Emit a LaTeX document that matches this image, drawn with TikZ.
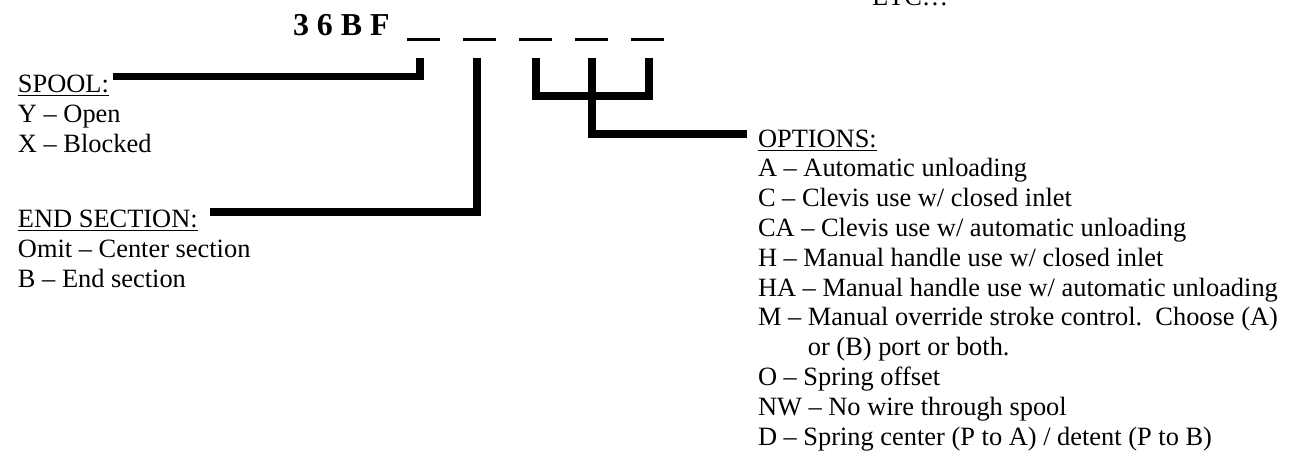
\documentclass[tikz,border=0pt]{standalone}
\usepackage{fontspec}
\setmainfont{Liberation Serif}
\begin{document}
\begin{tikzpicture}[x=0.4545pt,y=-0.4545pt,
  txt/.style={anchor=base west,inner sep=0pt,outer sep=0pt,font=\fontsize{12}{13.8}\selectfont},
  title/.style={anchor=base west,inner sep=0pt,outer sep=0pt,font=\fontsize{14.5}{16}\selectfont\bfseries},
  blank/.style={draw=none,fill=black,inner sep=0pt,outer sep=0pt,minimum width=15pt,minimum height=1pt},
  conn/.style={line width=3.6pt,line join=miter,line cap=butt}]
\useasboundingbox (0,0) rectangle (1301,460);
% header
\node[txt] (etc) at (872,5) {ETC…};
\node[title] (code) at (293,35) {3 6 B F};
\node[blank] (u1) at (423.5,39.5) {};
\node[blank] (u2) at (479.5,39.5) {};
\node[blank] (u3) at (535.5,39.5) {};
\node[blank] (u4) at (591.5,39.5) {};
\node[blank] (u5) at (647,39.5) {};
% left column
\node[txt] (spool) at (18,92) {\underline{SPOOL:}};
\node[txt] (sy) at (18,122) {Y – Open};
\node[txt] (sx) at (18,152) {X – Blocked};
\node[txt] (endsec) at (18,227) {\underline{END SECTION:}};
\node[txt] (eomit) at (18,257) {Omit – Center section};
\node[txt] (eb) at (18,287) {B – End section};
% options
\node[txt] (opt) at (758,147) {\underline{OPTIONS:}};
\node[txt] (oa) at (758,176.8) {A – Automatic unloading};
\node[txt] (oc) at (758,206.6) {C – Clevis use w/ closed inlet};
\node[txt] (oca) at (758,236.4) {CA – Clevis use w/ automatic unloading};
\node[txt] (oh) at (758,266.2) {H – Manual handle use w/ closed inlet};
\node[txt] (oha) at (758,296) {HA – Manual handle use w/ automatic unloading};
\node[txt] (om) at (758,325.8) {M – Manual override stroke control.\ \ Choose (A)};
\node[txt] (om2) at (758,355.6) {\phantom{M – }or (B) port or both.};
\node[txt] (oo) at (758,385.4) {O – Spring offset};
\node[txt] (onw) at (758,415.2) {NW – No wire through spool};
\node[txt] (od) at (758,445) {D – Spring center (P to A) / detent (P to B)};
% connectors
\coordinate (s0) at (113,76.5);
\coordinate (s1) at (420,58);
\draw[conn] (s0) -| (s1);
\coordinate (e0) at (210,212);
\coordinate (e1) at (477,58);
\draw[conn] (e0) -| (e1);
\coordinate (b3) at (536,58);
\coordinate (b5) at (649,58);
\coordinate (b4) at (592,58);
\coordinate (ob) at (747,134);
\draw[conn] (b3) -- (536,96) -- (649,96) -- (b5);
\draw[conn] (b4) |- (ob);
\end{tikzpicture}
\end{document}
